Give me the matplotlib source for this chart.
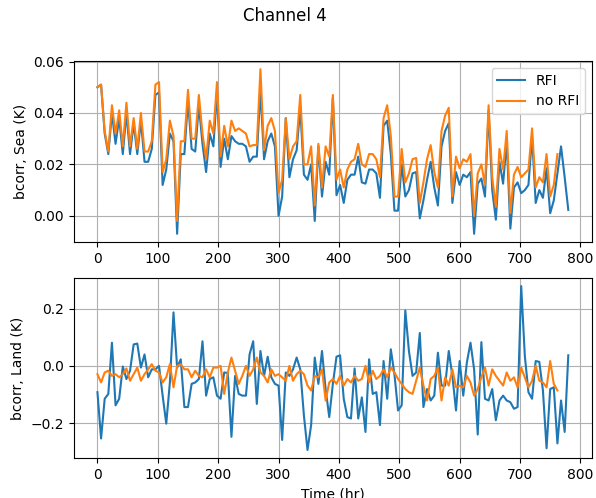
import numpy as np
import matplotlib

matplotlib.use("Agg")
import matplotlib.pyplot as plt

# time axis, 6-hourly
time_rfi = np.arange(0, 781, 6)
time_norfi = np.arange(0, 763, 6)

sea_rfi = [
    0.050, 0.051, 0.032, 0.024, 0.040, 0.028, 0.038, 0.024, 0.040, 0.024,
    0.036, 0.024, 0.037, 0.021, 0.021, 0.026, 0.047, 0.048, 0.012, 0.018,
    0.032, 0.029, -0.007, 0.024, 0.024, 0.045, 0.026, 0.025, 0.043, 0.028,
    0.017, 0.032, 0.027, 0.048, 0.019, 0.030, 0.022, 0.031, 0.029, 0.028,
    0.028, 0.027, 0.021, 0.023, 0.023, 0.049, 0.022, 0.029, 0.032, 0.027,
    0.000, 0.0075, 0.038, 0.015, 0.022, 0.0255, 0.042, 0.016, 0.014, 0.020,
    -0.002, 0.027, 0.0075, 0.021, 0.016, 0.046, 0.008, 0.012, 0.005, 0.014,
    0.016, 0.016, 0.023, 0.013, 0.0125, 0.018, 0.018, 0.0165, 0.007, 0.035,
    0.037, 0.024, 0.002, 0.002, 0.020, 0.0075, 0.010, 0.0165, 0.017, -0.001,
    0.006, 0.014, 0.021, 0.011, 0.004, 0.027, 0.033, 0.036, 0.005, 0.017,
    0.012, 0.016, 0.015, 0.017, -0.007, 0.0125, 0.0145, 0.0075, 0.041, 0.010,
    -0.0015, 0.021, 0.0125, 0.029, -0.005, 0.011, 0.013, 0.0088, 0.010, 0.012,
    0.031, 0.005, 0.010, 0.007, 0.0185, 0.001, 0.006, 0.0165, 0.027, 0.015,
    0.0023,
]
sea_norfi = [
    0.050, 0.051, 0.033, 0.025, 0.043, 0.032, 0.041, 0.027, 0.044, 0.027,
    0.038, 0.026, 0.040, 0.025, 0.025, 0.029, 0.051, 0.052, 0.017, 0.022,
    0.037, 0.031, -0.002, 0.029, 0.029, 0.049, 0.030, 0.030, 0.047, 0.032,
    0.022, 0.037, 0.032, 0.052, 0.023, 0.035, 0.027, 0.037, 0.033, 0.034,
    0.033, 0.032, 0.027, 0.0275, 0.0275, 0.057, 0.0255, 0.035, 0.038, 0.033,
    0.009, 0.014, 0.038, 0.022, 0.027, 0.029, 0.047, 0.020, 0.020, 0.027,
    0.004, 0.028, 0.011, 0.027, 0.023, 0.047, 0.014, 0.018, 0.011, 0.018,
    0.021, 0.022, 0.028, 0.020, 0.019, 0.024, 0.024, 0.022, 0.015, 0.038,
    0.043, 0.031, 0.0075, 0.0075, 0.026, 0.013, 0.0165, 0.022, 0.0225, 0.005,
    0.013, 0.022, 0.0275, 0.017, 0.011, 0.033, 0.039, 0.042, 0.0075, 0.023,
    0.0185, 0.022, 0.021, 0.024, 0.000, 0.0165, 0.020, 0.012, 0.043, 0.015,
    0.0035, 0.026, 0.018, 0.033, 0.001, 0.016, 0.019, 0.015, 0.0165, 0.018,
    0.034, 0.011, 0.015, 0.013, 0.024, 0.0075, 0.012, 0.024,
]
land_rfi = [
    -0.092, -0.254, -0.115, -0.098, 0.081, -0.138, -0.115, -0.002, -0.046, -0.017,
    0.075, 0.078, -0.006, 0.040, -0.040, -0.012, -0.012, 0.000, -0.104, -0.202,
    -0.058, 0.187, -0.006, 0.023, -0.144, -0.144, -0.063, -0.058, -0.046, 0.086,
    -0.104, -0.046, -0.040, -0.104, -0.115, -0.023, -0.025, -0.248, -0.035, -0.098,
    -0.104, -0.104, 0.040, 0.086, -0.133, 0.052, -0.035, 0.032, -0.040, -0.063,
    -0.069, -0.259, -0.023, -0.035, -0.012, 0.029, -0.012, -0.173, -0.294, -0.207,
    0.029, -0.063, 0.052, -0.081, -0.179, -0.063, 0.032, 0.037, -0.115, -0.179,
    -0.184, -0.009, -0.184, -0.110, -0.231, 0.023, -0.098, -0.092, -0.207, 0.017,
    -0.115, 0.058, -0.029, -0.156, -0.138, 0.194, 0.052, -0.035, -0.023, 0.115,
    -0.144, -0.081, -0.121, -0.104, 0.046, -0.069, -0.069, 0.052, -0.035, -0.156,
    0.017, -0.104, 0.012, 0.081, -0.012, -0.240, 0.083, -0.115, -0.121, -0.081,
    -0.190, -0.121, -0.104, -0.121, -0.127, -0.150, -0.144, 0.279, 0.035, -0.092,
    -0.115, 0.017, 0.014, -0.086, -0.288, -0.081, -0.075, -0.271, -0.121, -0.231,
    0.037,
]
land_norfi = [
    -0.029, -0.058, -0.023, -0.017, -0.035, -0.029, -0.040, -0.029, -0.009, -0.052,
    -0.029, -0.006, -0.052, -0.029, -0.012, 0.006, -0.017, -0.023, -0.058, -0.040,
    0.006, -0.075, 0.000, 0.006, -0.012, -0.012, -0.040, -0.017, -0.035, -0.040,
    -0.012, -0.040, -0.006, -0.006, 0.000, -0.098, -0.023, 0.029, -0.017, -0.063,
    -0.035, 0.000, -0.035, -0.012, 0.029, -0.023, -0.035, -0.058, -0.012, -0.035,
    -0.029, -0.040, -0.052, 0.000, -0.052, -0.029, -0.017, -0.029, -0.069, -0.086,
    -0.035, -0.040, -0.012, -0.121, -0.058, -0.046, -0.063, -0.035, -0.069, -0.046,
    -0.058, -0.035, -0.052, -0.046, 0.000, -0.058, -0.017, -0.046, -0.035, -0.012,
    -0.040, -0.006, -0.023, -0.046, -0.063, -0.081, -0.092, -0.098, -0.052, -0.006,
    -0.069, -0.121, -0.046, -0.035, -0.006, -0.121, -0.040, -0.069, -0.012, -0.075,
    -0.069, -0.075, -0.035, -0.058, -0.104, -0.081, -0.040, -0.006, -0.069, -0.012,
    -0.035, -0.052, -0.069, -0.023, -0.052, -0.040, -0.075, -0.006, -0.040, -0.075,
    -0.052, 0.000, -0.052, -0.058, -0.075, 0.017, -0.063, -0.086,
]

fig = plt.figure(figsize=(5.96, 4.98), dpi=100)
fig.suptitle("Channel 4", x=0.478, y=0.985)

ax1 = fig.add_axes([0.124, 0.514, 0.869, 0.3635])
ax1.plot(time_rfi, sea_rfi, color="#1f77b4", label="RFI")
ax1.plot(time_norfi, sea_norfi, color="#ff7f0e", label="no RFI")
ax1.set_ylabel("bcorr, Sea (K)")
ax1.set_xticks([0, 100, 200, 300, 400, 500, 600, 700, 800])
ax1.set_yticks([0.00, 0.02, 0.04, 0.06])
ax1.grid(True)
ax1.legend(loc="upper right")

ax2 = fig.add_axes([0.124, 0.080, 0.869, 0.362])
ax2.plot(time_rfi, land_rfi, color="#1f77b4", label="RFI")
ax2.plot(time_norfi, land_norfi, color="#ff7f0e", label="no RFI")
ax2.set_ylabel("bcorr, Land (K)")
ax2.set_xlabel("Time (hr)")
ax2.set_xticks([0, 100, 200, 300, 400, 500, 600, 700, 800])
ax2.set_yticks([-0.2, 0.0, 0.2])
ax2.grid(True)

fig.savefig("out.png", dpi=100)
